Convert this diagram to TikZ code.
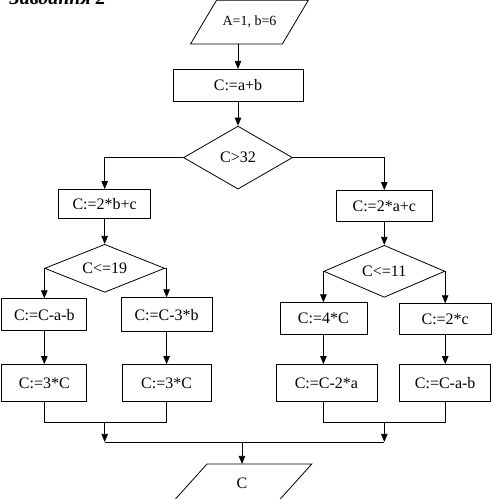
\documentclass[tikz,border=0pt]{standalone}
\usepackage{fontspec}
\setmainfont{Liberation Serif}
\usepackage{tikz}
\usetikzlibrary{arrows.meta,positioning,shapes,calc}

\begin{document}
\begin{tikzpicture}[
            box/.style={rectangle, draw, inner sep=0pt, minimum height=32pt, font=\fontsize{16}{19}\selectfont},
            decision/.style={diamond, draw, inner sep=0pt, aspect=2, font=\fontsize{16}{19}\selectfont},
            io/.style={rectangle, inner sep=0pt, font=\fontsize{16}{19}\selectfont},
            arrow/.style={->, >={Triangle[length=8pt,width=6.5pt]}, line width=0.8pt},
            every path/.style={line width=0.8pt}
        ]
        \useasboundingbox (0,0) rectangle (500pt,-498pt);

        \node[anchor=base west, font=\fontsize{20}{24}\selectfont\bfseries\itshape] (title) at (6pt,-4pt) {Завдання 2};

        \node[io, minimum width=91pt, minimum height=43pt, font=\fontsize{14}{17}\selectfont] (start) at (249.5pt,-22pt) {A=1, b=6};
        \node[box, minimum width=130pt, below=25pt of start, xshift=-11.5pt] (sum) {C:=a+b};
        \node[decision, minimum width=109pt, minimum height=63pt, below=24pt of sum] (cond1) {C>32};

        % left branch
        \node[box, minimum width=92pt, minimum height=29pt, below left=31.5pt and 32pt of cond1.west] (left1) {C:=2*b+c};
        \node[decision, minimum width=120pt, minimum height=48pt, below=25pt of left1] (cond2) {C<=19};
        \node[box, minimum width=85pt, below=30pt of cond2.west] (ll) {C:=C-a-b};
        \node[box, minimum width=91pt, minimum height=34pt, below=29pt of cond2.east, xshift=1.5pt] (lr) {C:=C-3*b};
        \node[box, minimum width=85pt, minimum height=37pt, below=33pt of ll] (ll2) {C:=3*C};
        \node[box, minimum width=89pt, minimum height=37pt, below=32pt of lr] (lr2) {C:=3*C};

        % right branch
        \node[box, minimum width=96pt, minimum height=31pt, below right=32.5pt and 43pt of cond1.east] (right1) {C:=2*a+c};
        \node[decision, minimum width=121pt, minimum height=52pt, below=23pt of right1] (cond3) {C<=11};
        \node[box, minimum width=87pt, below=31pt of cond3.west] (rl) {C:=4*C};
        \node[box, minimum width=92pt, minimum height=31pt, below=32pt of cond3.east] (rr) {C:=2*c};
        \node[box, minimum width=101pt, minimum height=37pt, below=29pt of rl, xshift=3pt] (rl2) {C:=C-2*a};
        \node[box, minimum width=91pt, minimum height=37pt, below=29pt of rr] (rr2) {C:=C-a-b};

        \coordinate (joinL) at ($(ll2.south -| cond2.south)+(0,-20pt)$);
        \coordinate (joinR) at ($(rl2.south -| cond3.south)+(0,-20pt)$);
        \coordinate (mergeL) at ($(joinL)+(0,-20pt)$);
        \coordinate (mergeR) at ($(joinR)+(0,-20pt)$);
        \coordinate (mergeM) at ($(mergeL)!0.5!(mergeR)+(-2.5pt,0)$);

        \node[io, minimum width=104pt, minimum height=38pt, below=22pt of mergeM] (finish) {C};

        % parallelograms
        \draw ([xshift=13pt]start.north west) -- ([xshift=13pt]start.north east) -- ([xshift=-13pt]start.south east) -- ([xshift=-13pt]start.south west) -- cycle;
        \draw ([xshift=17.5pt]finish.north west) -- ([xshift=17.5pt]finish.north east) -- ([xshift=-17.5pt]finish.south east) -- ([xshift=-17.5pt]finish.south west) -- cycle;

        \draw[arrow] (start.south -| sum) -- (sum);
        \draw[arrow] (sum) -- (cond1);
        \draw[arrow] (cond1.west) -| (left1);
        \draw[arrow] (cond1.east) -| (right1);
        \draw[arrow] (left1) -- (cond2);
        \draw[arrow] (right1) -- (cond3);
        \draw[arrow] (cond2.west) -- (ll);
        \draw[arrow] (cond2.east) -| (lr);
        \draw[arrow] (cond3.west) -- (rl);
        \draw[arrow] (cond3.east) -- (rr);
        \draw[arrow] (ll) -- (ll2);
        \draw[arrow] (lr) -- (lr2);
        \draw[arrow] (rl.south) -- (rl.south |- rl2.north);
        \draw[arrow] (rr) -- (rr2);

        % merge
        \draw (ll2.south) |- (joinL) -| (lr2.south);
        \draw (rl.south |- rl2.south) |- (joinR) -| (rr2.south);
        \draw[arrow] (joinL) -- (mergeL);
        \draw[arrow] (joinR) -- (mergeR);
        \draw (mergeL) -- (mergeR);
        \draw[arrow] (mergeM) -- (finish);
\end{tikzpicture}
\end{document}
